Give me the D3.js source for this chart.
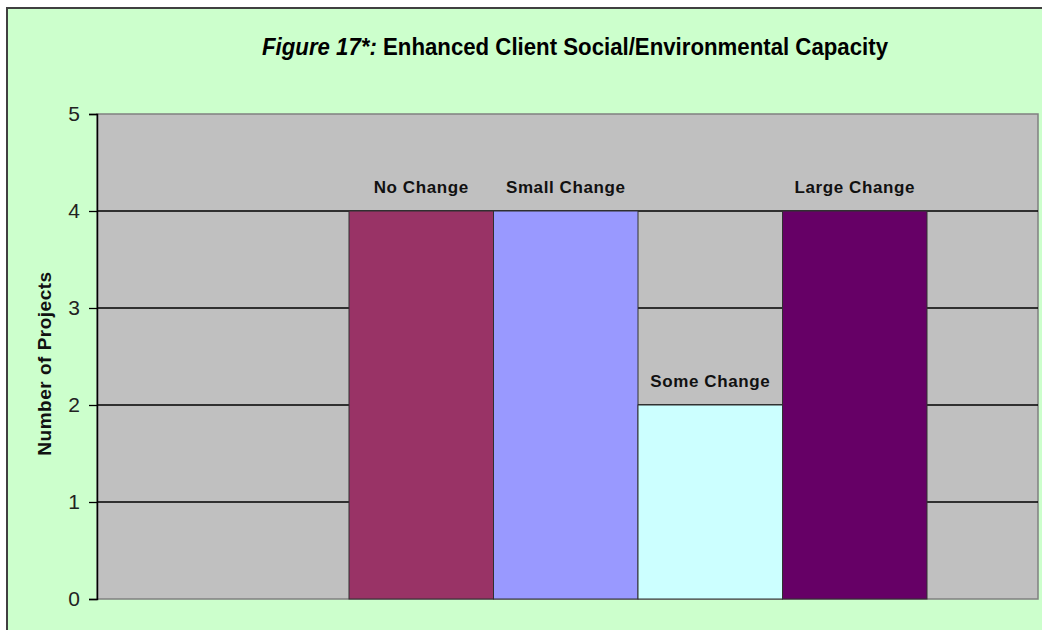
<!DOCTYPE html>
<html>
<head>
<meta charset="utf-8">
<script src="https://cdn.jsdelivr.net/npm/d3@7"></script>
<style>
  body { margin: 0; background: #fff; }
  svg { display: block; font-family: Arial, "Liberation Sans", sans-serif; }
</style>
</head>
<body>
<svg width="1042" height="630"></svg>
<script>
var categories = ["No Change", "Small Change", "Some Change", "Large Change"];
var values = [4, 4, 2, 4];
var colors = ["#993366", "#9999ff", "#ccffff", "#660066"];
var yTicks = [0, 1, 2, 3, 4, 5];

var svg = d3.select("svg"),
  width = +svg.attr("width"),
  height = +svg.attr("height");

var margin = { top: 114, right: 4, bottom: 31, left: 97 };

// chart background and border
svg.append("rect")
  .attr("x", 7).attr("y", 8)
  .attr("width", width + 20).attr("height", height)
  .attr("fill", "#ccffcc")
  .attr("stroke", "#404040")
  .attr("stroke-width", 2);

// title
var title = svg.append("text")
  .attr("x", 262).attr("y", 55)
  .attr("font-size", 23)
  .attr("font-weight", "bold")
  .attr("fill", "#000")
  .attr("textLength", 626)
  .attr("lengthAdjust", "spacingAndGlyphs");
title.append("tspan").attr("font-style", "italic").text("Figure 17*:");
title.append("tspan").text(" Enhanced Client Social/Environmental Capacity");

var y = d3.scaleLinear()
  .domain([0, 5])
  .range([height - margin.bottom, margin.top]);

// bars sit in the middle block of the plot area
var x = d3.scaleBand()
  .domain(categories)
  .range([349, 927])
  .padding(0);

// plot area
svg.append("rect")
  .attr("x", margin.left)
  .attr("y", margin.top)
  .attr("width", width - margin.right - margin.left)
  .attr("height", height - margin.bottom - margin.top)
  .attr("fill", "#c0c0c0")
  .attr("stroke", "#808080")
  .attr("stroke-width", 1.5);

// gridlines
svg.append("g")
  .selectAll("line")
  .data(yTicks.filter(function (d) { return d > 0 && d < 5; }))
  .enter().append("line")
  .attr("x1", margin.left)
  .attr("x2", width - margin.right)
  .attr("y1", function (d) { return y(d); })
  .attr("y2", function (d) { return y(d); })
  .attr("stroke", "#000")
  .attr("stroke-width", 1.3);

// bars
svg.append("g")
  .selectAll("rect")
  .data(values)
  .enter().append("rect")
  .attr("x", function (d, i) { return x(categories[i]); })
  .attr("y", function (d) { return y(d); })
  .attr("width", x.bandwidth())
  .attr("height", function (d) { return y(0) - y(d); })
  .attr("fill", function (d, i) { return colors[i]; })
  .attr("stroke", "#303030")
  .attr("stroke-width", 1);

// bar labels
svg.append("g")
  .selectAll("text")
  .data(values)
  .enter().append("text")
  .attr("x", function (d, i) { return x(categories[i]) + x.bandwidth() / 2; })
  .attr("y", function (d) { return y(d) - 18; })
  .attr("text-anchor", "middle")
  .attr("font-size", 17)
  .attr("font-weight", "bold")
  .attr("letter-spacing", 0.6)
  .attr("fill", "#111")
  .text(function (d, i) { return categories[i]; });

// y axis
var yAxis = svg.append("g")
  .attr("transform", "translate(" + margin.left + ",0)")
  .call(d3.axisLeft(y).tickValues(yTicks).tickSize(8).tickPadding(9).tickFormat(d3.format("d")));
yAxis.select(".domain").attr("stroke", "#000").attr("stroke-width", 1.5);
yAxis.selectAll(".tick line").attr("stroke", "#000").attr("stroke-width", 1.3);
yAxis.selectAll(".tick text")
  .attr("font-size", 21)
  .attr("font-family", "Arial, 'Liberation Sans', sans-serif")
  .attr("fill", "#222");

svg.append("text")
  .attr("transform", "translate(51," + ((margin.top + height - margin.bottom) / 2 + 7) + ") rotate(-90)")
  .attr("text-anchor", "middle")
  .attr("font-size", 19)
  .attr("font-weight", "bold")
  .attr("letter-spacing", 0.5)
  .attr("fill", "#111")
  .text("Number of Projects");
</script>
</body>
</html>
